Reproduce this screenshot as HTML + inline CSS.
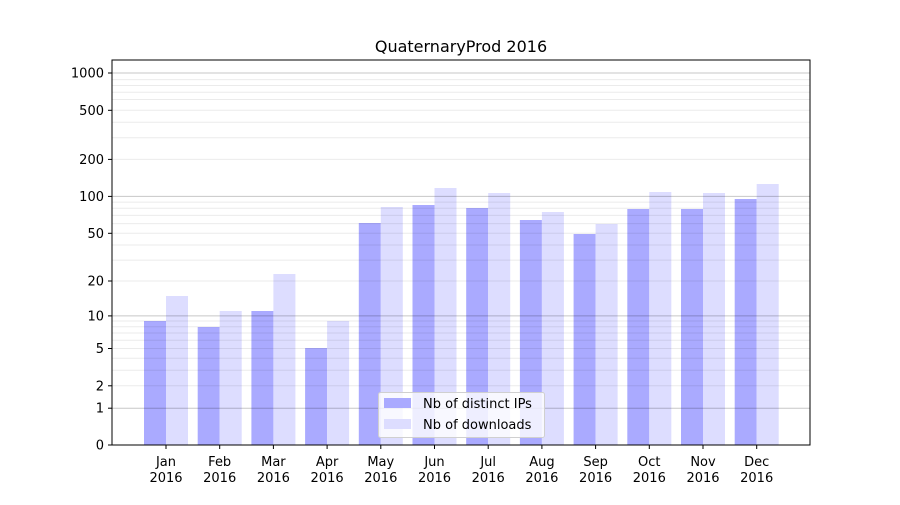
<!DOCTYPE html>
<html><head><meta charset="utf-8"><style>
html,body{margin:0;padding:0;background:#fff;}
svg text{font-family:"DejaVu Sans","Liberation Sans",sans-serif;fill:#000;}
</style></head><body>
<svg width="900" height="500" viewBox="0 0 900 500" xmlns="http://www.w3.org/2000/svg">
<rect width="900" height="500" fill="#fff"/>
<g>
<rect x="144" y="321" width="22" height="124" fill="#aaaaff"/><rect x="166" y="296" width="22" height="149" fill="#ddddff"/>
<rect x="197.7" y="327" width="22" height="118" fill="#aaaaff"/><rect x="219.7" y="311" width="22" height="134" fill="#ddddff"/>
<rect x="251.4" y="311" width="22" height="134" fill="#aaaaff"/><rect x="273.4" y="274" width="22" height="171" fill="#ddddff"/>
<rect x="305.1" y="348" width="22" height="97" fill="#aaaaff"/><rect x="327.1" y="321" width="22" height="124" fill="#ddddff"/>
<rect x="358.8" y="223" width="22" height="222" fill="#aaaaff"/><rect x="380.8" y="207" width="22" height="238" fill="#ddddff"/>
<rect x="412.5" y="205" width="22" height="240" fill="#aaaaff"/><rect x="434.5" y="188" width="22" height="257" fill="#ddddff"/>
<rect x="466.2" y="208" width="22" height="237" fill="#aaaaff"/><rect x="488.2" y="193" width="22" height="252" fill="#ddddff"/>
<rect x="519.9" y="220" width="22" height="225" fill="#aaaaff"/><rect x="541.9" y="212" width="22" height="233" fill="#ddddff"/>
<rect x="573.6" y="234" width="22" height="211" fill="#aaaaff"/><rect x="595.6" y="224" width="22" height="221" fill="#ddddff"/>
<rect x="627.3" y="209" width="22" height="236" fill="#aaaaff"/><rect x="649.3" y="192" width="22" height="253" fill="#ddddff"/>
<rect x="681" y="209" width="22" height="236" fill="#aaaaff"/><rect x="703" y="193" width="22" height="252" fill="#ddddff"/>
<rect x="734.7" y="199" width="22" height="246" fill="#aaaaff"/><rect x="756.7" y="184" width="22" height="261" fill="#ddddff"/>
</g>
<g stroke="#000" stroke-opacity="0.08" stroke-width="1">
<line x1="112" x2="810" y1="370.3" y2="370.3"/><line x1="112" x2="810" y1="358.3" y2="358.3"/>
<line x1="112" x2="810" y1="340.2" y2="340.2"/><line x1="112" x2="810" y1="333" y2="333"/>
<line x1="112" x2="810" y1="326.7" y2="326.7"/><line x1="112" x2="810" y1="321" y2="321"/>
<line x1="112" x2="810" y1="260.1" y2="260.1"/><line x1="112" x2="810" y1="245" y2="245"/>
<line x1="112" x2="810" y1="223.6" y2="223.6"/><line x1="112" x2="810" y1="215.4" y2="215.4"/>
<line x1="112" x2="810" y1="208.3" y2="208.3"/><line x1="112" x2="810" y1="202.1" y2="202.1"/>
<line x1="112" x2="810" y1="137.8" y2="137.8"/><line x1="112" x2="810" y1="122.2" y2="122.2"/>
<line x1="112" x2="810" y1="99.5" y2="99.5"/><line x1="112" x2="810" y1="92.2" y2="92.2"/>
<line x1="112" x2="810" y1="85.5" y2="85.5"/><line x1="112" x2="810" y1="79.6" y2="79.6"/>
<line x1="112" x2="810" y1="385.8" y2="385.8"/><line x1="112" x2="810" y1="348.5" y2="348.5"/>
<line x1="112" x2="810" y1="281" y2="281"/><line x1="112" x2="810" y1="233.3" y2="233.3"/>
<line x1="112" x2="810" y1="159.4" y2="159.4"/><line x1="112" x2="810" y1="110.3" y2="110.3"/>
</g>
<g stroke="#000" stroke-opacity="0.22" stroke-width="1">
<line x1="112" x2="810" y1="408.2" y2="408.2"/><line x1="112" x2="810" y1="315.9" y2="315.9"/>
<line x1="112" x2="810" y1="196.4" y2="196.4"/><line x1="112" x2="810" y1="73" y2="73"/>
</g>
<rect x="112" y="60" width="698" height="385" fill="none" stroke="#000" stroke-width="1"/>
<g stroke="#000" stroke-width="1">
<line x1="108" x2="112" y1="445" y2="445"/><line x1="108" x2="112" y1="408.2" y2="408.2"/>
<line x1="108" x2="112" y1="385.8" y2="385.8"/><line x1="108" x2="112" y1="348.5" y2="348.5"/>
<line x1="108" x2="112" y1="315.9" y2="315.9"/><line x1="108" x2="112" y1="281" y2="281"/>
<line x1="108" x2="112" y1="233.3" y2="233.3"/><line x1="108" x2="112" y1="196.4" y2="196.4"/>
<line x1="108" x2="112" y1="159.4" y2="159.4"/><line x1="108" x2="112" y1="110.3" y2="110.3"/>
<line x1="108" x2="112" y1="73" y2="73"/>
</g>
<g font-size="13" text-anchor="end">
<text x="104" y="449.5">0</text><text x="104" y="412.7">1</text><text x="104" y="390.3">2</text>
<text x="104" y="353">5</text><text x="104" y="320.4">10</text><text x="104" y="285.5">20</text>
<text x="104" y="237.8">50</text><text x="104" y="200.9">100</text><text x="104" y="163.9">200</text>
<text x="104" y="114.8">500</text><text x="104" y="77.5">1000</text>
</g>
<g stroke="#000" stroke-width="1">
<line x1="166" x2="166" y1="445" y2="449"/><line x1="219.7" x2="219.7" y1="445" y2="449"/>
<line x1="273.4" x2="273.4" y1="445" y2="449"/><line x1="327.1" x2="327.1" y1="445" y2="449"/>
<line x1="380.8" x2="380.8" y1="445" y2="449"/><line x1="434.5" x2="434.5" y1="445" y2="449"/>
<line x1="488.2" x2="488.2" y1="445" y2="449"/><line x1="541.9" x2="541.9" y1="445" y2="449"/>
<line x1="595.6" x2="595.6" y1="445" y2="449"/><line x1="649.3" x2="649.3" y1="445" y2="449"/>
<line x1="703" x2="703" y1="445" y2="449"/><line x1="756.7" x2="756.7" y1="445" y2="449"/>
</g>
<g font-size="13" text-anchor="middle">
<text x="166" y="466">Jan</text><text x="166" y="482">2016</text>
<text x="219.7" y="466">Feb</text><text x="219.7" y="482">2016</text>
<text x="273.4" y="466">Mar</text><text x="273.4" y="482">2016</text>
<text x="327.1" y="466">Apr</text><text x="327.1" y="482">2016</text>
<text x="380.8" y="466">May</text><text x="380.8" y="482">2016</text>
<text x="434.5" y="466">Jun</text><text x="434.5" y="482">2016</text>
<text x="488.2" y="466">Jul</text><text x="488.2" y="482">2016</text>
<text x="541.9" y="466">Aug</text><text x="541.9" y="482">2016</text>
<text x="595.6" y="466">Sep</text><text x="595.6" y="482">2016</text>
<text x="649.3" y="466">Oct</text><text x="649.3" y="482">2016</text>
<text x="703" y="466">Nov</text><text x="703" y="482">2016</text>
<text x="756.7" y="466">Dec</text><text x="756.7" y="482">2016</text>
</g>
<text x="461" y="52" font-size="16" text-anchor="middle">QuaternaryProd 2016</text>
<rect x="378.5" y="392.5" width="166" height="45" rx="2" fill="#fff" fill-opacity="0.8" stroke="#d0d0d0"/>
<rect x="384" y="398" width="27" height="10" fill="#aaaaff"/>
<rect x="384" y="419" width="27" height="10" fill="#ddddff"/>
<text x="423" y="408" font-size="13">Nb of distinct IPs</text>
<text x="423" y="429" font-size="13">Nb of downloads</text>
</svg>
</body></html>
